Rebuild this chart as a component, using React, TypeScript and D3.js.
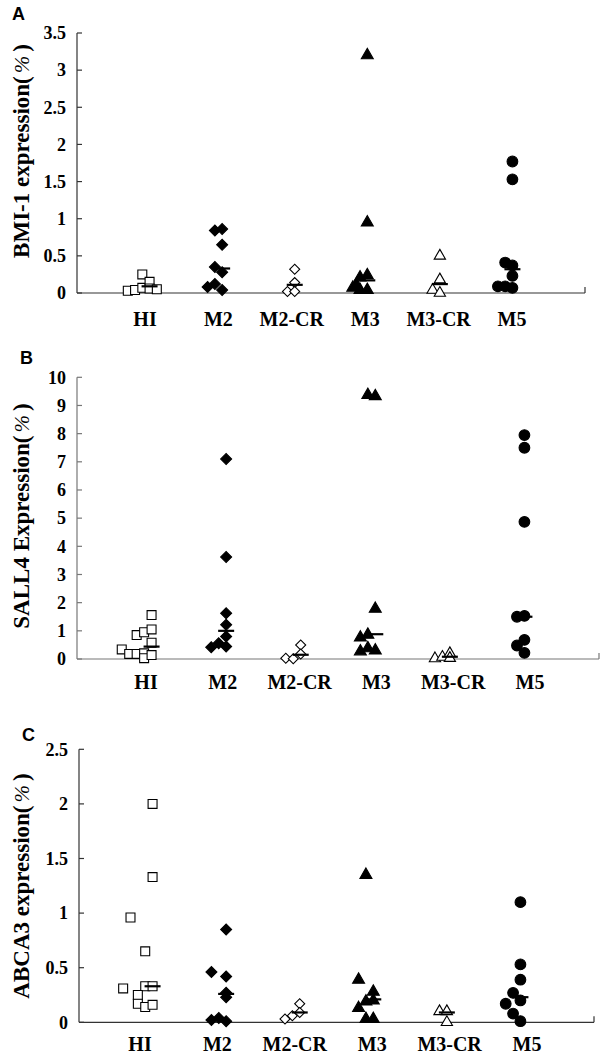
import * as d3 from 'd3';

const categories = ['HI', 'M2', 'M2-CR', 'M3', 'M3-CR', 'M5'];

// A: BMI-1 (one list per category, offsets are the small x shifts of the original)
const bmiValues = [
  [0.03, 0.04, 0.25, 0.07, 0.15, 0.06, 0.05],
  [0.84, 0.86, 0.65, 0.35, 0.28, 0.08, 0.12, 0.04],
  [0.32, 0.14, 0.02, 0.02],
  [3.2, 0.95, 0.24, 0.21, 0.11, 0.07, 0.04, 0.04],
  [0.5, 0.18, 0.04, 0.0],
  [1.77, 1.53, 0.41, 0.37, 0.23, 0.09, 0.09, 0.07],
];
const bmiOffsets = [
  [-0.3, -0.2, -0.1, -0.1, 0, 0, 0.1],
  [-0.1, 0, 0, -0.1, 0, -0.2, -0.1, 0],
  [0, 0, -0.1, 0],
  [0, 0, 0, -0.1, -0.15, -0.2, -0.1, 0],
  [0, 0, -0.1, 0],
  [0, 0, -0.1, 0, 0, -0.2, -0.1, 0],
];
const bmiMedians = [0.09, 0.33, 0.11, 0.17, 0.12, 0.32];

// B: SALL4
const sallValues = [
  [0.34, 0.18, 0.18, 0.85, 0.95, 0.2, 0.03, 1.56, 1.05, 0.58, 0.14],
  [7.1, 3.62, 1.62, 1.22, 0.8, 0.56, 0.42, 0.44],
  [0.03, 0.01, 0.5, 0.18],
  [9.37, 9.33, 1.78, 0.76, 0.86, 0.27, 0.38, 0.3],
  [0.02, 0.07, 0.2, 0.03],
  [7.95, 7.5, 4.87, 1.5, 1.53, 0.68, 0.48, 0.22],
];
const sallOffsets = [
  [-0.4, -0.3, -0.2, -0.2, -0.1, -0.1, -0.1, 0, 0, 0, 0],
  [0, 0, 0, 0, 0, -0.1, -0.2, 0],
  [-0.2, -0.1, 0, 0],
  [-0.1, 0, 0, -0.2, -0.1, -0.2, -0.1, 0],
  [-0.2, -0.1, 0, 0],
  [0, 0, 0, -0.1, 0, 0, -0.1, 0],
];
const sallMedians = [0.44, 1.0, 0.15, 0.88, 0.08, 1.5];

// C: ABCA3
const abcaValues = [
  [2.0, 1.33, 0.96, 0.65, 0.31, 0.33, 0.33, 0.25, 0.17, 0.14, 0.16],
  [0.85, 0.46, 0.42, 0.27, 0.23, 0.02, 0.04, 0.01],
  [0.03, 0.06, 0.17, 0.09],
  [1.35, 0.39, 0.28, 0.19, 0.2, 0.13, 0.03, 0.03],
  [0.1, 0.1, 0.0],
  [1.1, 0.53, 0.39, 0.27, 0.2, 0.17, 0.08, 0.01],
];
const abcaOffsets = [
  [0, 0, -0.3, -0.1, -0.4, -0.1, 0, -0.2, -0.2, -0.1, 0],
  [0, -0.2, 0, 0, 0, -0.2, -0.1, 0],
  [-0.2, -0.1, 0, 0],
  [-0.1, -0.2, 0, -0.1, 0, -0.2, -0.1, 0],
  [-0.1, 0, 0],
  [0, 0, 0, -0.1, 0, -0.2, -0.1, 0],
];
const abcaMedians = [0.33, 0.26, 0.09, 0.21, 0.09, 0.23];

// marker per category: symbol, filled?, rotation
const markers = [
  { sym: d3.symbolSquare, size: 80, fill: false, rot: 0 },
  { sym: d3.symbolSquare, size: 60, fill: true, rot: 45 },
  { sym: d3.symbolSquare, size: 50, fill: false, rot: 45 },
  { sym: d3.symbolTriangle, size: 62, fill: true, rot: 0 },
  { sym: d3.symbolTriangle, size: 55, fill: false, rot: 0 },
  { sym: d3.symbolCircle, size: 90, fill: true, rot: 0 },
];

const SERIF = '"Liberation Serif", "Times New Roman", serif';

const Panel = ({ letter, title, values, offsets, medians, yMax, yStep, box, axisColor }) => {
  const { left, right, bottom, top, labelY, labelRange, letterPos, titleY } = box;
  const x = d3.scaleLinear().domain([0, 7]).range([left, right]);
  const y = d3.scaleLinear().domain([0, yMax]).range([bottom, top]);
  const labelX = d3.scalePoint().domain(categories).range(labelRange);
  const ticks = d3.range(0, yMax + yStep / 2, yStep);

  return (
    <g>
      <text x={letterPos[0]} y={letterPos[1]} fontFamily='"Liberation Sans", Arial, sans-serif'
        fontWeight="bold" fontSize={18}>{letter}</text>

      <text transform={`translate(29,${titleY}) rotate(-90)`} textAnchor="middle"
        fontFamily={SERIF} fontWeight="bold" fontSize={23}>
        {title}(
        <tspan dx={3} fontStyle="italic" fontWeight="normal" fontSize={21}>%</tspan>
        <tspan dx={4}>)</tspan>
      </text>

      {/* y axis */}
      <line x1={left} x2={left} y1={y(yMax)} y2={y(0)} stroke={axisColor} strokeWidth={1.2} />
      {ticks.map(t => (
        <g key={t}>
          <line x1={left} x2={left + 5} y1={y(t)} y2={y(t)} stroke={axisColor} strokeWidth={1.2} />
          <text x={left - 11} y={y(t)} dy="0.35em" textAnchor="end" fontFamily={SERIF}
            fontWeight="bold" fontSize={18}>{String(+t.toFixed(1))}</text>
        </g>
      ))}

      {/* x axis */}
      <line x1={left} x2={right} y1={y(0)} y2={y(0)} stroke={axisColor} strokeWidth={1.2} />
      <line x1={right} x2={right} y1={y(0)} y2={y(0) - 6} stroke={axisColor} strokeWidth={1.2} />
      {categories.map(c => (
        <text key={c} x={labelX(c)} y={labelY} textAnchor="middle" fontFamily={SERIF}
          fontWeight="bold" fontSize={20}>{c}</text>
      ))}

      {/* points */}
      {values.map((group, i) => {
        const m = markers[i];
        const path = d3.symbol().type(m.sym).size(m.size)();
        return group.map((v, j) => (
          <path key={`${i}-${j}`} d={path}
            transform={`translate(${x(i + 1 + offsets[i][j])},${y(v)}) rotate(${m.rot})`}
            fill={m.fill ? '#000' : '#fff'} stroke="#000" strokeWidth={1.1} />
        ));
      })}

      {/* medians */}
      {medians.map((md, i) => (
        <line key={i} x1={x(i + 1) - 8} x2={x(i + 1) + 8} y1={y(md)} y2={y(md)}
          stroke="#000" strokeWidth={2.2} />
      ))}
    </g>
  );
};

export default function App() {
  return (
    <svg width={600} height={1056} style={{ position: 'absolute', left: 0, top: 0, background: '#fff' }}>
      <Panel letter="A" title="BMI-1 expression" values={bmiValues} offsets={bmiOffsets}
        medians={bmiMedians} yMax={3.5} yStep={0.5} axisColor="#333"
        box={{ left: 77, right: 585, bottom: 293, top: 33, labelY: 326, labelRange: [145, 512],
          letterPos: [12, 20], titleY: 151 }} />
      <Panel letter="B" title="SALL4 Expression" values={sallValues} offsets={sallOffsets}
        medians={sallMedians} yMax={10} yStep={1} axisColor="#777"
        box={{ left: 77, right: 599, bottom: 659, top: 377.3, labelY: 689, labelRange: [146, 530],
          letterPos: [20, 364], titleY: 516 }} />
      <Panel letter="C" title="ABCA3 expression" values={abcaValues} offsets={abcaOffsets}
        medians={abcaMedians} yMax={2.5} yStep={0.5} axisColor="#333"
        box={{ left: 79, right: 594, bottom: 1022.3, top: 749.3, labelY: 1051, labelRange: [140, 527],
          letterPos: [22, 741], titleY: 886 }} />
    </svg>
  );
}
